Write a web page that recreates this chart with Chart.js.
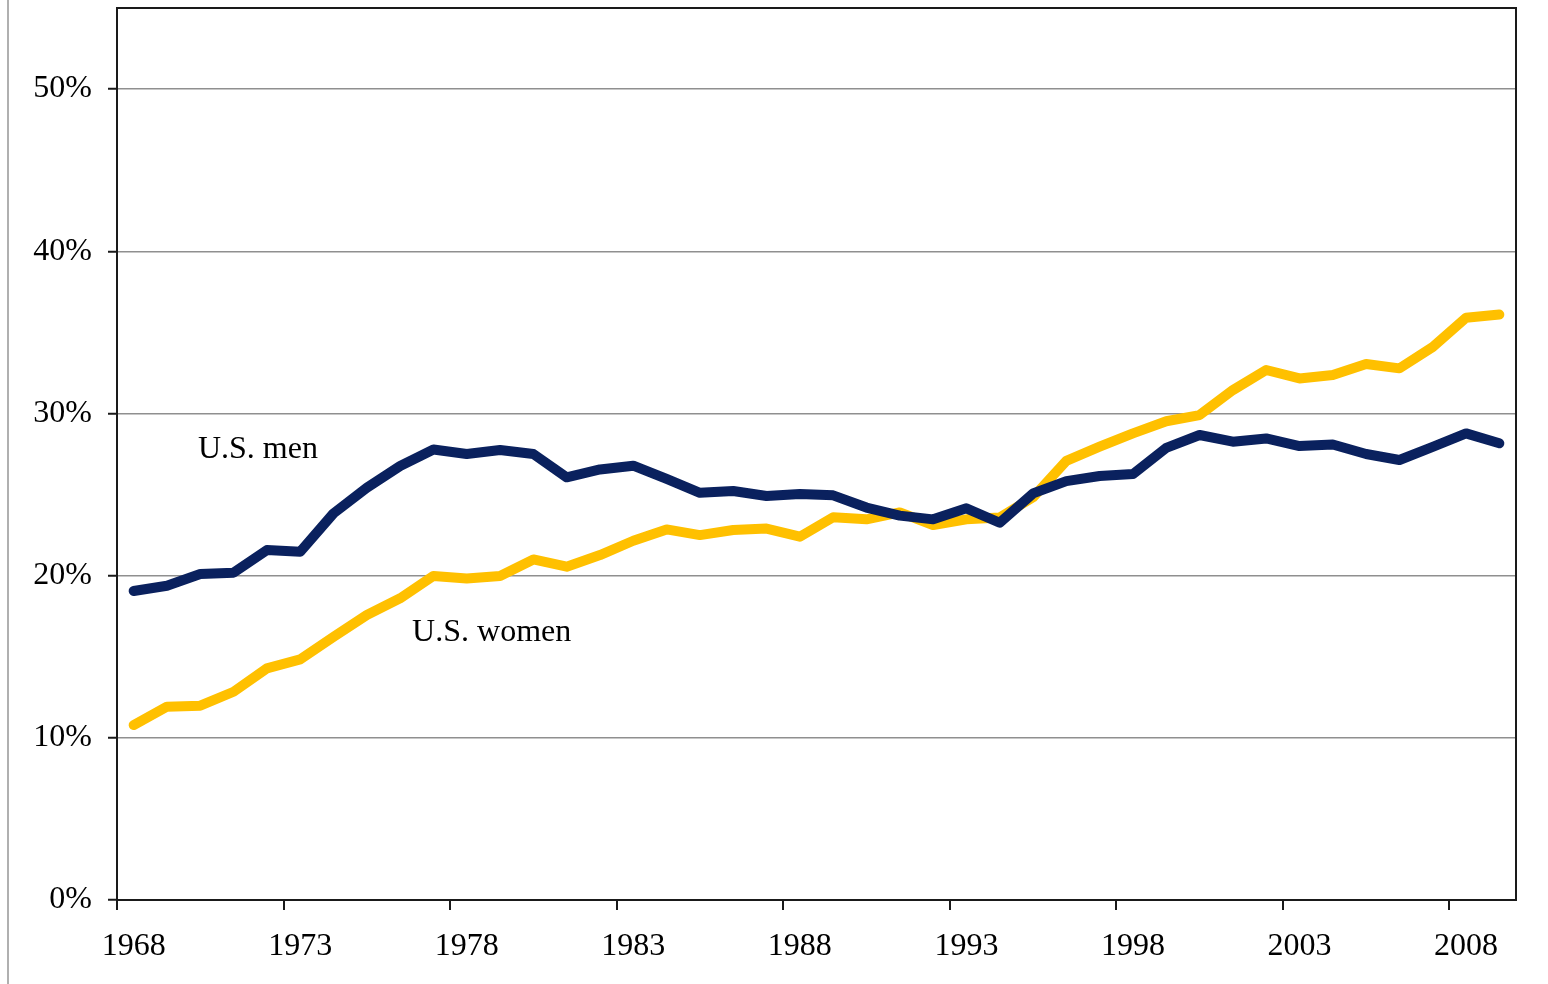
<!DOCTYPE html>
<html>
<head>
<meta charset="utf-8">
<script src="https://cdn.jsdelivr.net/npm/chart.js@4/dist/chart.umd.min.js"></script>
<style>
  html, body { margin: 0; padding: 0; background: #fff; }
  canvas { display: block; }
</style>
</head>
<body>
<canvas id="chart" width="1548" height="984"></canvas>
<script>
const years = [];
for (let y = 1968; y <= 2009; y++) years.push(String(y));

// share of adults, percent
const menValues = [
    19.05, 19.38, 20.1, 20.18, 21.58, 21.47, 23.84, 25.42, 26.76, 27.78,
    27.5, 27.75, 27.5, 26.06, 26.55, 26.78, 25.96, 25.11, 25.22, 24.91,
    25.03, 24.95, 24.2, 23.7, 23.47, 24.15, 23.26, 25.07, 25.83, 26.14,
    26.26, 27.88, 28.67, 28.26, 28.46, 27.99, 28.09, 27.5, 27.13, 27.94,
    28.77, 28.16
];
const womenValues = [
    10.79, 11.92, 11.98, 12.84, 14.28, 14.84, 16.23, 17.57, 18.6, 19.98,
    19.83, 19.98, 21.0, 20.55, 21.27, 22.15, 22.85, 22.5, 22.81, 22.9,
    22.4, 23.6, 23.47, 23.9, 23.12, 23.47, 23.59, 24.83, 27.08, 27.95,
    28.77, 29.52, 29.9, 31.44, 32.68, 32.16, 32.37, 33.05, 32.78, 34.1,
    35.9, 36.1
];
const yTicks = [0, 10, 20, 30, 40, 50];

const serif = '"Liberation Serif", "Times New Roman", serif';

// frame, left page rule and the two series names
const decorations = {
    id: 'decorations',
    afterDraw(chart) {
        const ctx = chart.ctx;
        const a = chart.chartArea;
        const x = chart.scales.x;
        const y = chart.scales.y;
        ctx.save();
        ctx.strokeStyle = '#b0b0b0';
        ctx.lineWidth = 2;
        ctx.beginPath();
        ctx.moveTo(8, 0);
        ctx.lineTo(8, chart.height);
        ctx.stroke();

        ctx.strokeStyle = '#1a1a1a';
        ctx.lineWidth = 2;
        ctx.strokeRect(a.left, a.top, a.right - a.left, a.bottom - a.top);

        ctx.fillStyle = '#000';
        ctx.font = '32px ' + serif;
        ctx.textAlign = 'left';
        ctx.textBaseline = 'alphabetic';
        ctx.fillText('U.S. men', x.getPixelForValue(1.93), y.getPixelForValue(27.27));
        ctx.fillText('U.S. women', x.getPixelForValue(8.36), y.getPixelForValue(16.0));
        ctx.restore();
    }
};

new Chart(document.getElementById('chart'), {
    type: 'line',
    data: {
        labels: years,
        datasets: [
            {
                label: 'U.S. men',
                data: menValues,
                borderColor: '#0a215e',
                borderWidth: 10,
                pointRadius: 0,
                tension: 0,
                borderJoinStyle: 'round',
                borderCapStyle: 'round'
            },
            {
                label: 'U.S. women',
                data: womenValues,
                borderColor: '#ffc000',
                borderWidth: 10,
                pointRadius: 0,
                tension: 0,
                borderJoinStyle: 'round',
                borderCapStyle: 'round'
            }
        ]
    },
    options: {
        responsive: false,
        animation: false,
        layout: { padding: { left: 0, top: 8, right: 32, bottom: 0 } },
        plugins: {
            legend: { display: false },
            tooltip: { enabled: false }
        },
        scales: {
            x: {
                offset: true,
                afterFit(scale) {
                    scale.height = 84;
                    scale.paddingLeft = 0;
                    scale.paddingRight = 0;
                },
                border: { display: false },
                grid: {
                    offset: true,
                    drawOnChartArea: false,
                    tickLength: 10,
                    lineWidth: 2,
                    tickColor: ctx => ctx.index % 5 === 0 && ctx.index < years.length ? '#1a1a1a' : 'rgba(0,0,0,0)'
                },
                ticks: {
                    autoSkip: false,
                    maxRotation: 0,
                    padding: 17,
                    color: '#000',
                    font: { family: serif, size: 32 },
                    callback: (val, i) => i % 5 === 0 ? years[i] : ''
                }
            },
            y: {
                min: 0,
                max: 55,
                afterFit(scale) {
                    scale.width = 117;
                    scale.paddingTop = 0;
                    scale.paddingBottom = 0;
                },
                afterBuildTicks(scale) { scale.ticks = yTicks.map(v => ({ value: v })); },
                border: { display: false },
                grid: {
                    color: '#8f8f8f',
                    lineWidth: 1.5,
                    tickLength: 9,
                    tickColor: '#1a1a1a',
                    tickWidth: 2
                },
                ticks: {
                    padding: 16,
                    color: '#000',
                    font: { family: serif, size: 32 },
                    callback: v => v + '%'
                }
            }
        }
    },
    plugins: [decorations]
});
</script>
</body>
</html>
